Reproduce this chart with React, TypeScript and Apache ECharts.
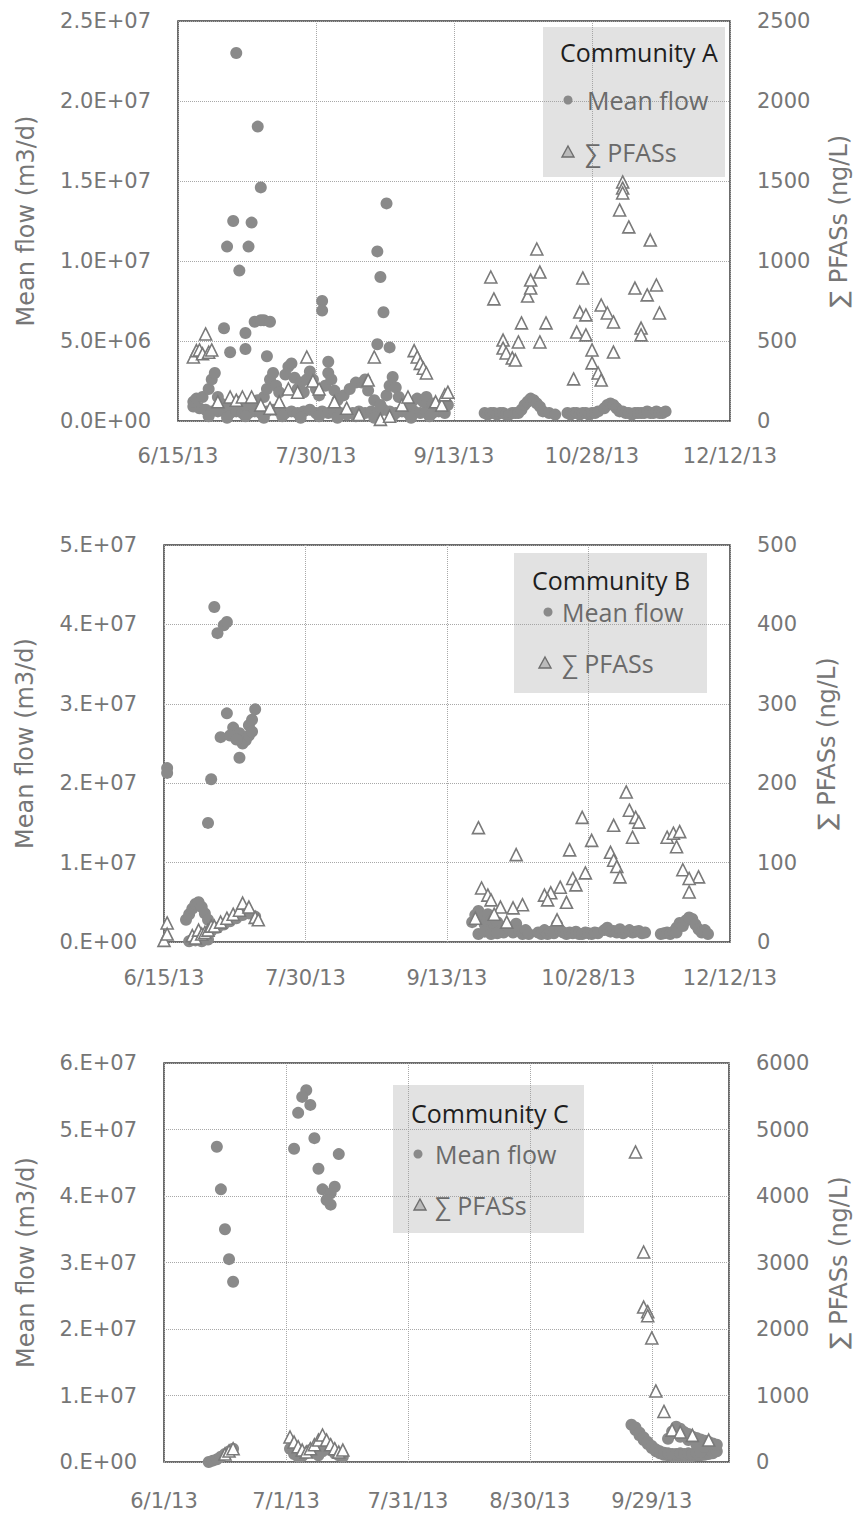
import React, { useEffect, useRef } from "react";
import * as echarts from "echarts";

type Pt = [string, number];

const BASE_AB = "6/15/13";
const BASE_C = "6/1/13";

const X_TICKS_AB = ["6/15/13", "7/30/13", "9/13/13", "10/28/13", "12/12/13"];
const X_TICKS_C = ["6/1/13", "7/1/13", "7/31/13", "8/30/13", "9/29/13"];
const A_LEFT_TICKS = ["0.0E+00", "5.0E+06", "1.0E+07", "1.5E+07", "2.0E+07", "2.5E+07"];
const A_RIGHT_TICKS = ["0", "500", "1000", "1500", "2000", "2500"];
const B_LEFT_TICKS = ["0.E+00", "1.E+07", "2.E+07", "3.E+07", "4.E+07", "5.E+07"];
const B_RIGHT_TICKS = ["0", "100", "200", "300", "400", "500"];
const C_LEFT_TICKS = ["0.E+00", "1.E+07", "2.E+07", "3.E+07", "4.E+07", "5.E+07", "6.E+07"];
const C_RIGHT_TICKS = ["0", "1000", "2000", "3000", "4000", "5000", "6000"];

// ---------- Community A ----------
const A_FLOW: Pt[] = [
  ["7/4/13", 2.3e7], ["7/11/13", 1.84e7], ["7/12/13", 1.46e7], ["7/3/13", 1.25e7], ["7/9/13", 1.24e7],
  ["7/1/13", 1.09e7], ["7/8/13", 1.09e7], ["7/5/13", 9.4e6], ["6/30/13", 5.8e6], ["7/7/13", 5.5e6],
  ["7/10/13", 6.2e6], ["7/12/13", 6.3e6], ["7/13/13", 6.3e6], ["7/15/13", 6.2e6],
  ["7/2/13", 4.3e6], ["7/7/13", 4.5e6], ["7/14/13", 4.05e6],
  ["8/1/13", 7.5e6], ["8/1/13", 6.9e6], ["8/3/13", 3.7e6],
  ["8/22/13", 1.36e7], ["8/19/13", 1.06e7], ["8/20/13", 9.0e6], ["8/21/13", 6.8e6],
  ["8/19/13", 4.8e6], ["8/23/13", 4.6e6],
  // low daily flows
  ["6/20/13", 9e5], ["6/22/13", 8e5], ["6/24/13", 7e5], ["6/26/13", 6e5], ["6/28/13", 6e5], ["6/30/13", 6e5],
  ["7/2/13", 5e5], ["7/4/13", 6e5], ["7/6/13", 5e5], ["7/8/13", 5e5], ["7/10/13", 6e5], ["7/12/13", 5e5],
  ["7/14/13", 6e5], ["7/16/13", 7e5], ["7/18/13", 6e5], ["7/20/13", 5e5], ["7/22/13", 6e5], ["7/24/13", 5e5],
  ["7/26/13", 6e5], ["7/28/13", 7e5], ["7/30/13", 5e5], ["8/1/13", 6e5], ["8/3/13", 5e5], ["8/5/13", 6e5],
  ["8/7/13", 5e5], ["8/9/13", 4e5], ["8/11/13", 5e5], ["8/13/13", 6e5], ["8/15/13", 5e5], ["8/17/13", 6e5],
  ["8/19/13", 5e5], ["8/21/13", 7e5], ["8/23/13", 6e5], ["8/25/13", 5e5], ["8/27/13", 6e5], ["8/29/13", 5e5],
  ["8/31/13", 6e5], ["9/2/13", 5e5], ["9/4/13", 6e5], ["9/6/13", 5e5], ["9/8/13", 6e5], ["9/10/13", 5e5],
  ["6/25/13", 3e5], ["7/1/13", 2e5], ["7/7/13", 3e5], ["7/13/13", 2e5], ["7/19/13", 3e5], ["7/25/13", 2e5],
  ["7/31/13", 3e5], ["8/6/13", 2e5], ["8/12/13", 3e5], ["8/18/13", 2e5], ["8/24/13", 3e5], ["8/30/13", 2e5],
  ["9/5/13", 3e5],
  ["6/20/13", 1.2e6], ["6/21/13", 1.4e6], ["6/23/13", 1.5e6], ["6/25/13", 2.0e6], ["6/26/13", 2.6e6],
  ["6/27/13", 3.0e6], ["6/28/13", 1.5e6], ["6/29/13", 1.1e6], ["7/1/13", 1.0e6], ["7/3/13", 1.1e6],
  ["7/5/13", 1.2e6], ["7/7/13", 1.0e6], ["7/9/13", 1.1e6], ["7/11/13", 1.3e6], ["7/13/13", 1.5e6],
  ["7/14/13", 2.0e6], ["7/15/13", 2.6e6], ["7/16/13", 3.0e6], ["7/17/13", 2.2e6], ["7/18/13", 1.8e6],
  ["7/20/13", 2.9e6], ["7/21/13", 3.4e6], ["7/22/13", 3.6e6], ["7/23/13", 2.7e6], ["7/24/13", 2.0e6],
  ["7/25/13", 2.4e6], ["7/26/13", 1.8e6], ["7/27/13", 2.6e6], ["7/28/13", 3.1e6], ["7/29/13", 2.6e6],
  ["7/30/13", 2.0e6], ["7/31/13", 1.6e6], ["8/2/13", 2.2e6], ["8/3/13", 3.0e6], ["8/4/13", 2.6e6],
  ["8/5/13", 1.9e6], ["8/6/13", 1.3e6], ["8/8/13", 1.6e6], ["8/10/13", 2.0e6], ["8/12/13", 2.4e6],
  ["8/14/13", 2.4e6], ["8/15/13", 2.6e6], ["8/16/13", 1.9e6], ["8/18/13", 1.3e6], ["8/20/13", 1.0e6],
  ["8/22/13", 1.6e6], ["8/23/13", 2.2e6], ["8/24/13", 2.75e6], ["8/25/13", 2.1e6], ["8/26/13", 1.5e6],
  ["8/28/13", 1.2e6], ["8/30/13", 1.1e6], ["9/1/13", 1.4e6], ["9/3/13", 1.2e6], ["9/4/13", 1.5e6],
  ["9/6/13", 1.1e6], ["9/8/13", 9e5], ["9/10/13", 1.2e6], ["9/11/13", 1.0e6],
  // autumn
  ["9/23/13", 5e5], ["9/24/13", 4e5], ["9/25/13", 5e5], ["9/26/13", 5e5], ["9/27/13", 4e5], ["9/28/13", 5e5],
  ["9/29/13", 5e5], ["9/30/13", 4e5], ["10/1/13", 4e5], ["10/2/13", 5e5], ["10/3/13", 5e5], ["10/4/13", 5e5],
  ["10/5/13", 7e5], ["10/6/13", 1.0e6], ["10/7/13", 1.2e6], ["10/8/13", 1.4e6], ["10/9/13", 1.3e6],
  ["10/10/13", 1.1e6], ["10/11/13", 9e5], ["10/12/13", 6e5], ["10/14/13", 5e5], ["10/16/13", 4e5],
  ["10/20/13", 5e5], ["10/21/13", 4e5], ["10/22/13", 5e5], ["10/23/13", 5e5], ["10/24/13", 4e5],
  ["10/25/13", 5e5], ["10/26/13", 5e5], ["10/27/13", 4e5], ["10/28/13", 5e5], ["10/29/13", 5e5],
  ["10/30/13", 6e5], ["11/1/13", 8e5], ["11/2/13", 1.0e6], ["11/3/13", 1.1e6], ["11/4/13", 1.0e6],
  ["11/5/13", 8e5], ["11/6/13", 6e5], ["11/7/13", 6e5], ["11/8/13", 5e5], ["11/9/13", 5e5],
  ["11/10/13", 4e5], ["11/11/13", 5e5], ["11/12/13", 5e5], ["11/13/13", 5e5], ["11/14/13", 5e5],
  ["11/15/13", 6e5], ["11/16/13", 5e5], ["11/17/13", 5e5], ["11/18/13", 6e5], ["11/19/13", 5e5],
  ["11/20/13", 5e5], ["11/21/13", 6e5],
];

const A_PFAS: Pt[] = [
  ["6/20/13", 400], ["6/21/13", 440], ["6/22/13", 444], ["6/23/13", 420], ["6/24/13", 544], ["6/25/13", 430],
  ["6/26/13", 444], ["6/28/13", 120], ["7/2/13", 150], ["7/4/13", 130], ["7/6/13", 150], ["7/9/13", 150],
  ["7/12/13", 100], ["7/15/13", 80], ["7/18/13", 120], ["7/21/13", 200], ["7/24/13", 180], ["7/27/13", 400],
  ["7/29/13", 250], ["7/31/13", 200], ["8/5/13", 120], ["8/9/13", 80], ["8/13/13", 40], ["8/16/13", 256],
  ["8/18/13", 400], ["8/20/13", 10], ["8/23/13", 30], ["8/27/13", 100], ["8/29/13", 150], ["8/31/13", 440],
  ["9/1/13", 400], ["9/2/13", 360], ["9/3/13", 330], ["9/4/13", 300], ["9/7/13", 120], ["9/9/13", 100],
  ["9/10/13", 163], ["9/11/13", 180],
  ["9/25/13", 900], ["9/26/13", 763], ["9/29/13", 506], ["9/29/13", 456], ["9/30/13", 425], ["10/2/13", 394],
  ["10/3/13", 381], ["10/4/13", 494], ["10/5/13", 613], ["10/11/13", 494], ["10/13/13", 613],
  ["10/7/13", 781], ["10/8/13", 831], ["10/8/13", 881], ["10/10/13", 1075], ["10/11/13", 931],
  ["10/23/13", 556], ["10/26/13", 538], ["10/22/13", 263], ["10/24/13", 681], ["10/25/13", 894],
  ["10/26/13", 663], ["10/28/13", 444], ["10/28/13", 363], ["10/30/13", 300], ["10/31/13", 256],
  ["10/31/13", 725], ["11/2/13", 675], ["11/4/13", 619], ["11/4/13", 431], ["11/6/13", 1319],
  ["11/7/13", 1494], ["11/7/13", 1456], ["11/7/13", 1425], ["11/9/13", 1213], ["11/16/13", 1131],
  ["11/11/13", 831], ["11/13/13", 581], ["11/13/13", 538], ["11/15/13", 788], ["11/18/13", 850],
  ["11/19/13", 675],
];

// ---------- Community B ----------
const B_FLOW: Pt[] = [
  ["6/16/13", 2.19e7], ["6/16/13", 2.13e7], ["6/29/13", 1.5e7], ["6/30/13", 2.05e7], ["7/1/13", 4.22e7],
  ["7/2/13", 3.89e7], ["7/4/13", 3.99e7], ["7/5/13", 4.03e7], ["7/3/13", 2.58e7], ["7/5/13", 2.88e7],
  ["7/7/13", 2.7e7], ["7/9/13", 2.63e7], ["7/9/13", 2.32e7], ["7/10/13", 2.5e7], ["7/11/13", 2.54e7],
  ["7/12/13", 2.73e7], ["7/13/13", 2.8e7], ["7/14/13", 2.93e7], ["7/6/13", 2.6e7], ["7/8/13", 2.55e7],
  ["7/12/13", 2.6e7], ["7/13/13", 2.65e7],
  ["6/22/13", 2.8e6], ["6/23/13", 3.5e6], ["6/24/13", 4.2e6], ["6/25/13", 4.8e6], ["6/26/13", 5.0e6],
  ["6/27/13", 4.4e6], ["6/28/13", 3.6e6], ["6/29/13", 2.8e6],
  ["6/24/13", 3e5], ["6/26/13", 6e5], ["6/28/13", 1.0e6], ["6/30/13", 1.4e6], ["7/2/13", 1.8e6],
  ["7/4/13", 2.2e6], ["7/6/13", 2.6e6], ["7/8/13", 3.0e6], ["7/10/13", 3.4e6], ["7/12/13", 3.6e6],
  ["7/14/13", 3.2e6], ["6/23/13", 1e5], ["6/25/13", 2e5], ["6/27/13", 1e5], ["6/29/13", 3e5],
  ["9/21/13", 2.5e6], ["9/22/13", 3.4e6], ["9/23/13", 3.9e6], ["9/24/13", 3.0e6], ["9/25/13", 2.2e6],
  ["9/26/13", 3.5e6], ["9/27/13", 2.8e6], ["9/28/13", 1.8e6], ["9/29/13", 2.5e6], ["9/30/13", 1.5e6],
  ["10/1/13", 1.2e6], ["10/2/13", 2.0e6], ["10/3/13", 1.5e6], ["10/4/13", 1.2e6], ["10/5/13", 2.3e6],
  ["10/6/13", 1.4e6], ["10/7/13", 1.0e6], ["10/8/13", 1.5e6], ["10/9/13", 1.0e6], ["9/23/13", 1.0e6],
  ["9/25/13", 1.3e6], ["9/27/13", 1.0e6], ["9/29/13", 1.1e6],
  ["10/12/13", 1.2e6], ["10/13/13", 1.0e6], ["10/14/13", 1.5e6], ["10/15/13", 1.0e6], ["10/16/13", 1.3e6],
  ["10/17/13", 1.1e6], ["10/18/13", 2.2e6], ["10/19/13", 1.5e6], ["10/20/13", 1.2e6], ["10/21/13", 1.0e6],
  ["10/22/13", 1.2e6], ["10/23/13", 1.1e6], ["10/24/13", 1.3e6], ["10/25/13", 1.0e6], ["10/26/13", 1.0e6],
  ["10/27/13", 1.2e6], ["10/28/13", 1.1e6], ["10/29/13", 1.0e6], ["10/30/13", 1.2e6], ["10/31/13", 1.1e6],
  ["11/2/13", 1.5e6], ["11/3/13", 1.8e6], ["11/4/13", 1.3e6], ["11/5/13", 1.4e6], ["11/6/13", 1.2e6],
  ["11/7/13", 1.6e6], ["11/8/13", 1.1e6], ["11/9/13", 1.3e6], ["11/10/13", 1.5e6], ["11/11/13", 1.2e6],
  ["11/12/13", 1.3e6], ["11/13/13", 1.4e6], ["11/14/13", 1.1e6], ["11/15/13", 1.2e6],
  ["11/20/13", 1.0e6], ["11/21/13", 1.1e6], ["11/22/13", 1.2e6], ["11/23/13", 1.0e6], ["11/24/13", 1.3e6],
  ["11/25/13", 1.8e6], ["11/25/13", 1.2e6], ["11/26/13", 2.4e6], ["11/27/13", 2.0e6], ["11/28/13", 2.7e6],
  ["11/29/13", 3.1e6], ["11/30/13", 2.9e6], ["12/1/13", 2.2e6], ["12/2/13", 1.6e6], ["12/3/13", 1.2e6],
  ["12/4/13", 1.5e6], ["12/5/13", 1.0e6],
];

const B_PFAS: Pt[] = [
  ["6/15/13", 2], ["6/16/13", 24], ["6/16/13", 10], ["6/24/13", 8], ["6/25/13", 5], ["6/26/13", 15],
  ["6/27/13", 10], ["6/28/13", 12], ["6/29/13", 15], ["6/30/13", 20], ["7/1/13", 20], ["7/3/13", 25],
  ["7/5/13", 30], ["7/7/13", 35], ["7/9/13", 40], ["7/10/13", 49], ["7/12/13", 44], ["7/14/13", 31],
  ["7/15/13", 28],
  ["9/23/13", 144], ["10/5/13", 110], ["10/26/13", 157], ["10/29/13", 128], ["10/22/13", 116],
  ["11/5/13", 147], ["11/9/13", 189], ["11/10/13", 166], ["11/12/13", 157], ["11/13/13", 151],
  ["11/11/13", 132], ["11/4/13", 113], ["11/5/13", 103], ["11/6/13", 95], ["11/7/13", 82],
  ["11/22/13", 132], ["11/24/13", 137], ["11/26/13", 139], ["11/25/13", 120], ["11/27/13", 91],
  ["12/2/13", 82], ["11/29/13", 63], ["11/29/13", 80], ["10/27/13", 87], ["10/23/13", 80],
  ["10/24/13", 72], ["10/19/13", 69], ["10/21/13", 50], ["10/16/13", 62], ["10/14/13", 59],
  ["10/15/13", 53], ["9/24/13", 68], ["9/26/13", 59], ["9/27/13", 53], ["9/30/13", 44], ["10/7/13", 47],
  ["10/4/13", 43], ["10/18/13", 28], ["9/22/13", 30], ["9/28/13", 35], ["10/2/13", 25],
];

// ---------- Community C ----------
const C_FLOW: Pt[] = [
  ["6/14/13", 4.74e7], ["6/15/13", 4.1e7], ["6/16/13", 3.5e7], ["6/17/13", 3.05e7], ["6/18/13", 2.71e7],
  ["7/6/13", 5.59e7], ["7/5/13", 5.49e7], ["7/7/13", 5.37e7], ["7/4/13", 5.25e7], ["7/3/13", 4.71e7],
  ["7/8/13", 4.87e7], ["7/14/13", 4.63e7], ["7/9/13", 4.41e7], ["7/10/13", 4.1e7], ["7/13/13", 4.14e7],
  ["7/12/13", 4.04e7], ["7/12/13", 3.87e7], ["7/11/13", 3.94e7],
  ["6/12/13", 0], ["6/13/13", 2e5], ["6/14/13", 4e5], ["6/15/13", 8e5], ["6/16/13", 1.2e6],
  ["6/17/13", 1.6e6], ["6/18/13", 2.0e6],
  ["7/2/13", 2.0e6], ["7/3/13", 1.2e6], ["7/4/13", 8e5], ["7/5/13", 9e5], ["7/6/13", 1.3e6],
  ["7/7/13", 1.8e6], ["7/8/13", 1.4e6], ["7/9/13", 1.0e6], ["7/10/13", 1.6e6], ["7/11/13", 2.2e6],
  ["7/12/13", 1.8e6], ["7/13/13", 1.3e6], ["7/14/13", 1.0e6], ["7/15/13", 8e5],
  ["9/24/13", 5.6e6], ["9/25/13", 4.8e6], ["9/26/13", 4.0e6], ["9/27/13", 3.3e6], ["9/28/13", 2.7e6],
  ["9/29/13", 2.1e6], ["9/30/13", 1.6e6], ["10/1/13", 1.3e6], ["10/2/13", 1.1e6], ["10/3/13", 1.0e6],
  ["10/4/13", 9e5], ["10/5/13", 9e5], ["10/6/13", 9e5], ["10/7/13", 9e5], ["10/8/13", 9e5],
  ["10/9/13", 9e5], ["10/10/13", 1.0e6], ["10/11/13", 1.0e6], ["10/12/13", 1.1e6], ["10/13/13", 1.2e6],
  ["10/14/13", 1.3e6], ["10/15/13", 1.6e6],
  ["9/25/13", 5.2e6], ["9/26/13", 4.4e6], ["9/27/13", 3.7e6], ["9/28/13", 3.0e6], ["9/29/13", 2.4e6],
  ["9/30/13", 1.9e6], ["10/1/13", 1.6e6], ["10/2/13", 1.4e6], ["10/3/13", 1.3e6], ["10/4/13", 1.2e6],
  ["10/5/13", 1.2e6], ["10/6/13", 1.3e6], ["10/7/13", 1.2e6], ["10/8/13", 1.3e6], ["10/9/13", 1.2e6],
  ["10/10/13", 1.4e6], ["10/11/13", 1.5e6],
  ["10/3/13", 3.5e6], ["10/4/13", 4.6e6], ["10/5/13", 5.3e6], ["10/6/13", 5.0e6], ["10/7/13", 4.5e6],
  ["10/8/13", 4.2e6], ["10/9/13", 3.8e6], ["10/10/13", 3.6e6], ["10/11/13", 3.4e6], ["10/12/13", 3.2e6],
  ["10/13/13", 3.0e6], ["10/14/13", 2.8e6], ["10/15/13", 2.6e6], ["10/6/13", 3.8e6], ["10/8/13", 3.3e6],
  ["10/10/13", 2.6e6], ["10/12/13", 2.3e6],
];

const C_PFAS: Pt[] = [
  ["6/16/13", 120], ["6/17/13", 165], ["6/18/13", 200],
  ["7/2/13", 376], ["7/3/13", 300], ["7/4/13", 230], ["7/5/13", 180], ["7/6/13", 150], ["7/7/13", 200],
  ["7/8/13", 260], ["7/9/13", 330], ["7/10/13", 406], ["7/11/13", 330], ["7/12/13", 260], ["7/13/13", 200],
  ["7/14/13", 150], ["7/15/13", 180],
  ["9/25/13", 4662], ["9/27/13", 3158], ["9/27/13", 2330], ["9/28/13", 2260], ["9/28/13", 2200],
  ["9/29/13", 1865], ["9/30/13", 1068], ["10/2/13", 760],
  ["10/4/13", 480], ["10/6/13", 450], ["10/9/13", 400], ["10/13/13", 330],
];

const dayNum = (s: string): number => {
  const [m, d, y] = s.split("/").map(Number);
  return Date.UTC(2000 + y, m - 1, d) / 86400000;
};
const toXY = (pts: Pt[], base: string) => pts.map(([d, v]) => [dayNum(d) - dayNum(base), v]);

const LABEL_FONT = "DejaVu Sans";
const LABEL_COLOR = "#767676";
const MARK = "#8a8a8a";

export default function App() {
  const ref = useRef<HTMLDivElement>(null);

  useEffect(() => {
    if (!ref.current) return;
    const chart = echarts.init(ref.current, undefined, { renderer: "svg" });

    const gridBase = {
      show: true,
      borderColor: "#3c3c3c",
      borderWidth: 1.5,
      backgroundColor: "transparent",
      containLabel: false,
    };
    const splitLine = { show: true, lineStyle: { type: "dotted", color: "#a8a8a8", width: 1 } };

    const xAx = (gridIndex: number, max: number, interval: number, ticks: string[], margin: number) => ({
      type: "value",
      gridIndex,
      min: 0,
      max,
      interval,
      axisLine: { show: false },
      axisTick: { show: false },
      splitLine,
      axisLabel: {
        margin,
        fontFamily: LABEL_FONT,
        fontSize: 21,
        color: LABEL_COLOR,
        showMaxLabel: max % interval === 0,
        formatter: (v: number) => ticks[Math.round(v / interval)] ?? "",
      },
    });

    const yAx = (
      gridIndex: number,
      position: "left" | "right",
      max: number,
      interval: number,
      ticks: string[],
      name: string,
      nameGap: number
    ) => ({
      type: "value",
      gridIndex,
      position,
      min: 0,
      max,
      interval,
      axisLine: { show: false },
      axisTick: { show: false },
      splitLine: position === "left" ? splitLine : { show: false },
      axisLabel: {
        margin: 27,
        fontFamily: LABEL_FONT,
        fontSize: 21,
        color: LABEL_COLOR,
        formatter: (v: number) => ticks[Math.round(v / interval)] ?? "",
      },
      name,
      nameLocation: "middle",
      nameRotate: 90,
      nameGap,
      nameTextStyle: { fontFamily: LABEL_FONT, fontSize: 24, color: LABEL_COLOR },
    });

    const flow = (data: number[][], xi: number, yi: number) => ({
      type: "scatter",
      xAxisIndex: xi,
      yAxisIndex: yi,
      data,
      symbol: "circle",
      symbolSize: 12,
      itemStyle: { color: MARK, opacity: 1 },
      silent: true,
      clip: false,
    });
    const pfas = (data: number[][], xi: number, yi: number) => ({
      type: "scatter",
      xAxisIndex: xi,
      yAxisIndex: yi,
      data,
      symbol: "triangle",
      symbolSize: 12,
      itemStyle: { color: "#ffffff", borderColor: "#7a7a7a", borderWidth: 1.6, opacity: 1 },
      silent: true,
      clip: false,
    });

    const legend = (
      bx: number, by: number, bw: number, bh: number, title: string,
      tx: number, ty: number, cx: number, cy: number, mx: number, px: number, py: number, qx: number
    ) => [
      { type: "rect", shape: { x: bx, y: by, width: bw, height: bh }, style: { fill: "rgba(160,160,160,0.3)" }, z: 1, silent: true },
      {
        type: "text", x: tx, y: ty, z: 5, silent: true,
        style: { text: title, font: "25px 'Open Sans'", fill: "#1e1e1e", verticalAlign: "middle", textVerticalAlign: "middle", align: "left" },
      },
      { type: "circle", shape: { cx, cy, r: 4.5 }, style: { fill: MARK }, z: 5, silent: true },
      {
        type: "text", x: mx, y: cy, z: 5, silent: true,
        style: { text: "Mean flow", font: "25px 'Open Sans'", fill: "#6a6a6a", verticalAlign: "middle", textVerticalAlign: "middle", align: "left" },
      },
      {
        type: "polygon", shape: { points: [[px, py - 6], [px + 6, py + 5], [px - 6, py + 5]] },
        style: { fill: "#bbbbbb", stroke: "#6e6e6e", lineWidth: 1.4 }, z: 5, silent: true,
      },
      {
        type: "text", x: qx, y: py, z: 5, silent: true,
        style: { text: "∑ PFASs", font: "25px 'Open Sans'", fill: "#6a6a6a", verticalAlign: "middle", textVerticalAlign: "middle", align: "left" },
      },
    ];

    chart.setOption({
      animation: false,
      backgroundColor: "#ffffff",
      grid: [
        { ...gridBase, left: 178, top: 21, width: 553, height: 400 },
        { ...gridBase, left: 164, top: 545, width: 566, height: 397 },
        { ...gridBase, left: 164, top: 1063, width: 566, height: 399 },
      ],
      xAxis: [
        xAx(0, 180, 45, X_TICKS_AB, 24),
        xAx(1, 180, 45, X_TICKS_AB, 25),
        xAx(2, 139, 30, X_TICKS_C, 28),
      ],
      yAxis: [
        yAx(0, "left", 2.5e7, 5e6, A_LEFT_TICKS, "Mean flow (m3/d)", 140),
        yAx(0, "right", 2500, 500, A_RIGHT_TICKS, "∑ PFASs (ng/L)", 97),
        yAx(1, "left", 5e7, 1e7, B_LEFT_TICKS, "Mean flow (m3/d)", 127),
        yAx(1, "right", 500, 100, B_RIGHT_TICKS, "∑ PFASs (ng/L)", 85),
        yAx(2, "left", 6e7, 1e7, C_LEFT_TICKS, "Mean flow (m3/d)", 126),
        yAx(2, "right", 6000, 1000, C_RIGHT_TICKS, "∑ PFASs (ng/L)", 98),
      ],
      series: [
        flow(toXY(A_FLOW, BASE_AB), 0, 0),
        pfas(toXY(A_PFAS, BASE_AB), 0, 1),
        flow(toXY(B_FLOW, BASE_AB), 1, 2),
        pfas(toXY(B_PFAS, BASE_AB), 1, 3),
        flow(toXY(C_FLOW, BASE_C), 2, 4),
        pfas(toXY(C_PFAS, BASE_C), 2, 5),
      ],
      graphic: [
        ...legend(543, 27, 182, 150, "Community A", 560, 52, 568, 100, 587, 568, 152, 585),
        ...legend(514, 553, 193, 140, "Community B", 532, 580, 548, 612, 562, 545, 663, 562),
        ...legend(393, 1085, 191, 148, "Community C", 411, 1113, 418, 1154, 435, 420, 1205, 435),
      ],
    });

    return () => chart.dispose();
  }, []);

  return (
    <div
      ref={ref}
      style={{ position: "absolute", left: 0, top: 0, width: 859, height: 1516, background: "#fff" }}
    />
  );
}
